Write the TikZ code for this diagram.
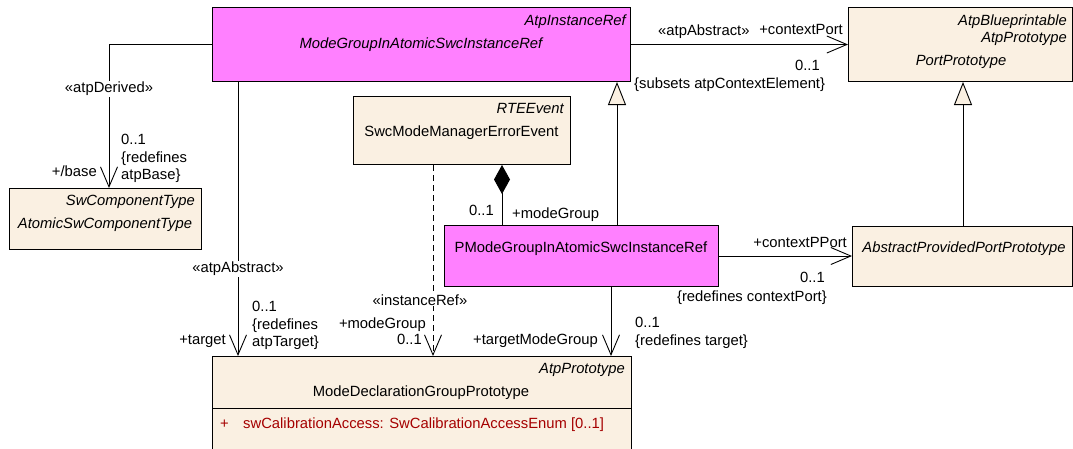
\documentclass[tikz,border=0pt]{standalone}
\usepackage{fontspec}
\setmainfont{Liberation Sans}
\usetikzlibrary{arrows.meta,calc}
\definecolor{mag}{RGB}{255,128,255}
\definecolor{beige}{RGB}{250,240,226}
\definecolor{attr}{RGB}{165,0,0}
\begin{document}
\begin{tikzpicture}[x=1pt,y=-1pt,
  every node/.style={font=\fontsize{14.8}{17.5}\selectfont, inner sep=0pt},
  cls/.style={draw, line width=1pt, anchor=north west, inner sep=0pt},
  magbox/.style={cls, fill=mag},
  begbox/.style={cls, fill=beige},
  it/.style={font=\fontsize{14.8}{17.5}\selectfont\itshape},
  stereo/.style={fill=white, inner sep=1pt},
  multi/.style={align=left, anchor=north west},
  assoc/.style={line width=0.9pt, -{Straight Barb[length=20pt,width=17pt,line width=0.9pt]}},
  gen/.style={line width=0.9pt, -{Triangle[length=23pt,width=18pt,fill=beige,line width=0.9pt]}},
  comp/.style={line width=0.9pt, {Diamond[length=29pt,width=16pt]}-},
  dep/.style={line width=0.9pt, dash pattern=on 6pt off 4pt, -{Straight Barb[length=20pt,width=17pt,line width=0.9pt]}}
]
\useasboundingbox (0,0) rectangle (1073,448);

% ---- classes ----
\node[magbox, minimum width=418pt, minimum height=74pt] (mg) at (212,7) {};
\node[it, anchor=mid east] (mgs) at (626,23) {AtpInstanceRef};
\node[it, anchor=mid] (mgn) at (421,46) {ModeGroupInAtomicSwcInstanceRef};

\node[begbox, minimum width=224pt, minimum height=74pt] (pp) at (848,7) {};
\node[it, anchor=mid east] (pps1) at (1067,23) {AtpBlueprintable};
\node[it, anchor=mid east] (pps2) at (1067,40) {AtpPrototype};
\node[it, anchor=mid] (ppn) at (961,63) {PortPrototype};

\node[begbox, minimum width=192pt, minimum height=61pt] (swc) at (9,188) {};
\node[it, anchor=mid east] (swcs) at (195,203) {SwComponentType};
\node[it, anchor=mid] (swcn) at (105,226) {AtomicSwComponentType};

\node[begbox, minimum width=217pt, minimum height=68pt] (smm) at (353,96) {};
\node[it, anchor=mid east] (smms) at (564,111) {RTEEvent};
\node[anchor=mid] (smmn) at (461.5,134) {SwcModeManagerErrorEvent};

\node[magbox, minimum width=274pt, minimum height=61pt] (pm) at (444,225) {};
\node[anchor=mid] (pmn) at (581,250) {PModeGroupInAtomicSwcInstanceRef};

\node[begbox, minimum width=220pt, minimum height=60pt] (ap) at (852,226) {};
\node[it, anchor=mid] (apn) at (964,250) {AbstractProvidedPortPrototype};

\node[begbox, minimum width=419pt, minimum height=110pt] (md) at (212,356) {};
\draw[line width=1pt] (md.west |- 0,408) coordinate (mdl) -- (md.east |- 0,408) coordinate (mdr);
\node[it, anchor=mid east] (mds) at (625,371) {AtpPrototype};
\node[anchor=mid] (mdn) at (421,394) {ModeDeclarationGroupPrototype};
\node[anchor=mid west, text=attr] (mdp) at (220,426) {+};
\node[anchor=mid west, text=attr] (mda) at (243,426) {swCalibrationAccess: SwCalibrationAccessEnum [0..1]};

% ---- connectors ----
% atpDerived
\draw[assoc] (mg.west) -| ($(swc.north west)+(100,0)$) coordinate (swcin);
\node[stereo] (l1) at (109,89) {«atpDerived»};
\node[multi] (l2) at (121,134) {0..1\\\{redefines\\atpBase\}};
\node[anchor=mid east] (l3) at (97,174) {+/base};

% atpAbstract target
\draw[assoc] ($(mg.south west)+(26,0)$) coordinate (mgt) -- ($(md.north west)+(26,0)$) coordinate (mdt);
\node[stereo] (l4) at (238,269) {«atpAbstract»};
\node[multi] (l5) at (252,301) {0..1\\\{redefines\\atpTarget\}};
\node[anchor=mid east] (l6) at (226,342) {+target};

% instanceRef
\draw[dep] ($(smm.south west)+(80,0)$) coordinate (smmi) -- ($(md.north west)+(221,0)$) coordinate (mdi);
\node[stereo] (l7) at (420,300) {«instanceRef»};
\node[anchor=mid east] (l8) at (426,326) {+modeGroup};
\node[anchor=mid east] (l9) at (422,342) {0..1};

% composition
\draw[comp] ($(smm.south west)+(149,0)$) coordinate (smmc) -- ($(pm.north west)+(58,0)$) coordinate (pmc);
\node[anchor=mid east] (l10) at (494,213) {0..1};
\node[anchor=mid west] (l11) at (512,216) {+modeGroup};

% generalization pm -> mg
\draw[gen] ($(pm.north west)+(173,0)$) coordinate (pmg) -- ($(mg.south west)+(405,0)$) coordinate (mgg);

% contextPort
\draw[assoc] (mg.east) -- (pp.west);
\node[anchor=mid west] (l12) at (658,33) {«atpAbstract»};
\node[anchor=mid east] (l13) at (843,32) {+contextPort};
\node[anchor=mid east] (l14) at (820,68) {0..1};
\node[anchor=mid west] (l15) at (634,86) {\{subsets atpContextElement\}};

% generalization ap -> pp
\draw[gen] ($(ap.north west)+(111,0)$) coordinate (apg) -- ($(pp.south west)+(115,0)$) coordinate (ppg);

% contextPPort
\draw[assoc] (pm.east) -- (pm.east -| ap.west);
\node[anchor=mid east] (l16) at (847,245) {+contextPPort};
\node[anchor=mid east] (l17) at (825,280) {0..1};
\node[anchor=mid east] (l18) at (827,299) {\{redefines contextPort\}};

% targetModeGroup
\draw[assoc] ($(pm.south west)+(167,0)$) coordinate (pmt) -- ($(md.north west)+(399,0)$) coordinate (mdt2);
\node[anchor=mid east] (l19) at (598,342) {+targetModeGroup};
\node[multi] (l20) at (635,317) {0..1\\\{redefines target\}};
\end{tikzpicture}
\end{document}
